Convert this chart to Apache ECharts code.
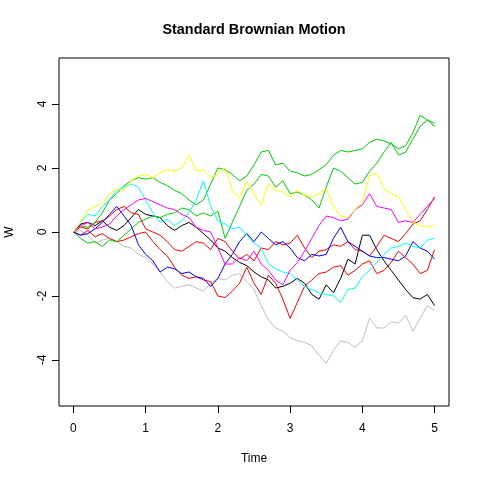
<!DOCTYPE html>
<html><head><meta charset="utf-8">
<script src="https://cdn.jsdelivr.net/npm/echarts@6/dist/echarts.min.js"></script>
<style>html,body{margin:0;padding:0;background:#fff}#c{width:480px;height:480px}</style>
</head><body><div id="c"></div>
<script>
const times = [0,0.1,0.2,0.3,0.4,0.5,0.6,0.7,0.8,0.9,1.0,1.1,1.2,1.3,1.4,1.5,1.6,1.7,1.8,1.9,2.0,2.1,2.2,2.3,2.4,2.5,2.6,2.7,2.8,2.9,3.0,3.1,3.2,3.3,3.4,3.5,3.6,3.7,3.8,3.9,4.0,4.1,4.2,4.3,4.4,4.5,4.6,4.7,4.8,4.9,5.0];
const xTicks = [0,1,2,3,4,5];
const yTicks = [-4,-2,0,2,4];

const wGray = [0,0.05,-0.1,-0.35,-0.25,-0.2,-0.3,-0.45,-0.5,-0.7,-0.8,-1.0,-1.25,-1.55,-1.75,-1.7,-1.65,-1.75,-1.85,-1.6,-1.45,-1.5,-1.35,-1.3,-1.55,-1.8,-2.3,-2.75,-3.0,-3.1,-3.3,-3.4,-3.45,-3.55,-3.85,-4.1,-3.7,-3.4,-3.45,-3.6,-3.4,-2.7,-3.0,-3.0,-2.8,-2.85,-2.6,-3.1,-2.7,-2.3,-2.45];
const wBlack = [0,0.25,0.3,0.2,0.35,0.15,0.05,0.2,0.45,0.7,0.55,0.5,0.45,0.2,0.05,0.2,0.3,0.15,-0.05,-0.25,-0.5,-0.6,-0.8,-0.95,-1.05,-1.25,-1.4,-1.5,-1.75,-1.7,-1.6,-1.45,-1.6,-1.95,-2.1,-1.65,-1.9,-1.45,-0.85,-1.0,-0.1,-0.1,-0.55,-0.9,-1.2,-1.5,-1.8,-2.05,-2.1,-1.95,-2.3];
const wRedA = [0,0.15,0.1,0.3,0.35,0.5,0.7,0.8,0.6,0.55,0.1,0,-0.1,-0.3,-0.55,-0.6,-0.45,-0.3,-0.35,-0.55,-0.2,-0.3,-0.6,-0.85,-0.7,-0.9,-0.5,-0.55,-0.3,-0.4,-0.35,-0.1,-0.5,-0.8,-0.6,-0.55,-0.4,-0.45,-0.3,-0.55,-0.6,-0.75,-0.45,-0.1,-0.2,-0.3,-0.05,0.25,0.35,0.7,1.1];
const wRedB = [0,-0.1,0.05,-0.15,-0.05,-0.2,-0.3,-0.25,-0.15,-0.05,0,-0.3,-0.55,-0.75,-1.1,-1.35,-1.45,-1.4,-1.5,-1.55,-2.0,-2.05,-1.85,-1.6,-1.1,-1.6,-1.95,-1.35,-1.6,-2.1,-2.7,-2.2,-1.7,-1.5,-1.3,-1.25,-1.1,-1.05,-1.35,-1.2,-1.0,-0.9,-1.3,-1.2,-0.95,-0.6,-0.8,-1.0,-1.3,-1.2,-0.55];
const wGreenA = [0,0.2,0.15,0.3,0.6,1.0,1.2,1.45,1.6,1.7,1.65,1.7,1.55,1.45,1.3,1.2,1.0,0.85,1.0,1.5,2.0,1.95,1.8,1.6,1.75,2.1,2.5,2.55,2.1,2.15,1.9,1.85,1.75,1.8,1.95,2.1,2.4,2.55,2.5,2.55,2.6,2.8,2.9,2.85,2.75,2.6,2.7,3.1,3.65,3.5,3.4];
const wGreenB = [0,-0.2,-0.35,-0.3,-0.45,-0.25,-0.3,-0.1,0.1,0.3,0.4,0.5,0.45,0.55,0.6,0.75,0.7,0.5,0.6,0.5,0.65,-0.2,0.3,0.8,1.3,1.5,1.8,1.75,1.4,1.6,1.2,1.25,1.15,1.0,0.75,1.4,2.0,1.9,1.7,1.5,1.55,1.9,2.15,2.5,2.8,2.4,2.5,2.9,3.3,3.5,3.3];
const wBlue = [0,-0.1,-0.05,0.1,0.3,0.55,0.8,0.5,0.2,-0.4,-0.7,-0.9,-1.25,-1.1,-1.15,-1.3,-1.25,-1.4,-1.45,-1.7,-1.45,-1.0,-0.7,-0.3,-0.05,-0.3,0,-0.2,-0.4,-0.3,-0.5,-0.8,-0.9,-0.7,-0.75,-0.7,-0.2,0.15,-0.3,-0.45,-0.6,-0.75,-0.8,-0.8,-0.85,-0.9,-0.75,-0.3,-0.5,-0.6,-0.85];
const wCyan = [0,0.3,0.55,0.5,0.8,1.0,1.3,1.4,1.5,1.4,1.0,0.6,0.3,0.4,0.2,0.35,0.6,1.0,1.6,0.8,0.35,0.25,0.1,0.15,-0.1,-0.35,-0.5,-1.0,-1.15,-1.25,-1.3,-1.5,-1.7,-1.8,-1.9,-1.95,-2.0,-2.2,-1.8,-1.75,-1.4,-1.2,-0.95,-0.7,-0.5,-0.45,-0.35,-0.45,-0.5,-0.25,-0.2];
const wMagenta = [0,0.2,0.3,0.1,0.15,0.25,0.5,0.7,0.85,1.0,1.05,0.95,0.85,0.75,0.7,0.55,0.45,0.15,0.05,0,-0.5,-1.0,-1.0,-0.8,-0.9,-0.6,-1.0,-1.2,-1.5,-1.65,-1.2,-0.95,-0.6,-0.2,0.2,0.5,0.45,0.35,0.4,0.7,0.85,1.2,0.8,0.75,0.7,0.3,0.35,0.3,0.55,0.8,1.05];
const wYellow = [0,0.3,0.7,0.8,0.9,1.2,1.35,1.3,1.6,1.75,1.8,1.7,1.85,1.95,1.9,2.0,2.4,1.9,1.95,1.7,1.8,2.0,1.3,1.05,1.6,1.2,0.85,1.5,1.3,1.25,1.1,1.3,1.15,1.1,1.2,1.35,0.8,0.5,0.45,0.7,0.95,1.75,1.85,1.35,1.2,1.1,0.7,0.3,0.2,0.15,0.2];

const paths = [
  {name:'gray', color:'#BEBEBE', w:wGray},
  {name:'black', color:'#000000', w:wBlack},
  {name:'redA', color:'#FF0000', w:wRedA},
  {name:'redB', color:'#FF0000', w:wRedB},
  {name:'greenA', color:'#00CD00', w:wGreenA},
  {name:'greenB', color:'#00CD00', w:wGreenB},
  {name:'blue', color:'#0000FF', w:wBlue},
  {name:'cyan', color:'#00FFFF', w:wCyan},
  {name:'magenta', color:'#FF00FF', w:wMagenta},
  {name:'yellow', color:'#FFFF00', w:wYellow}
];

const FONT = 'Liberation Sans, Arial, Helvetica, sans-serif';
const chart = echarts.init(document.getElementById('c'), null, {renderer:'canvas'});
chart.setOption({
  animation:false,
  backgroundColor:'#fff',
  graphic:[{type:'text', x:254, y:30, silent:true,
    style:{text:'Standard Brownian Motion', textAlign:'center', textVerticalAlign:'middle',
      font:'bold 14.4px ' + FONT, fill:'#000'}}],
  grid:{left:59, right:31, top:58, bottom:74, outerBoundsMode:'none', containLabel:false,
    show:true, borderColor:'#000', borderWidth:1, backgroundColor:'transparent'},
  xAxis:{type:'value', min:-0.2, max:5.2,
    name:'Time', nameLocation:'middle', nameGap:47,
    nameTextStyle:{fontFamily:FONT, fontSize:12, color:'#000'},
    axisLine:{show:false, onZero:false}, splitLine:{show:false},
    axisTick:{show:true, inside:false, length:7, customValues:xTicks, lineStyle:{color:'#000', width:1}},
    axisLabel:{customValues:xTicks, margin:17, fontFamily:FONT, fontSize:12, color:'#000'}},
  yAxis:{type:'value', min:-5.4375, max:5.4375,
    name:'W', nameLocation:'middle', nameGap:43, nameRotate:90,
    nameTextStyle:{fontFamily:FONT, fontSize:12, color:'#000'},
    axisLine:{show:false, onZero:false}, splitLine:{show:false},
    axisTick:{show:true, inside:false, length:7, customValues:yTicks, lineStyle:{color:'#000', width:1}},
    axisLabel:{customValues:yTicks, rotate:90, margin:10, fontFamily:FONT, fontSize:12, color:'#000'}},
  series: paths.map(p => ({
    name:p.name, type:'line', showSymbol:false, symbol:'none', silent:true,
    lineStyle:{color:p.color, width:1}, itemStyle:{color:p.color},
    data: times.map((t,i) => [t, p.w[i]])
  }))
});
</script>
</body></html>
